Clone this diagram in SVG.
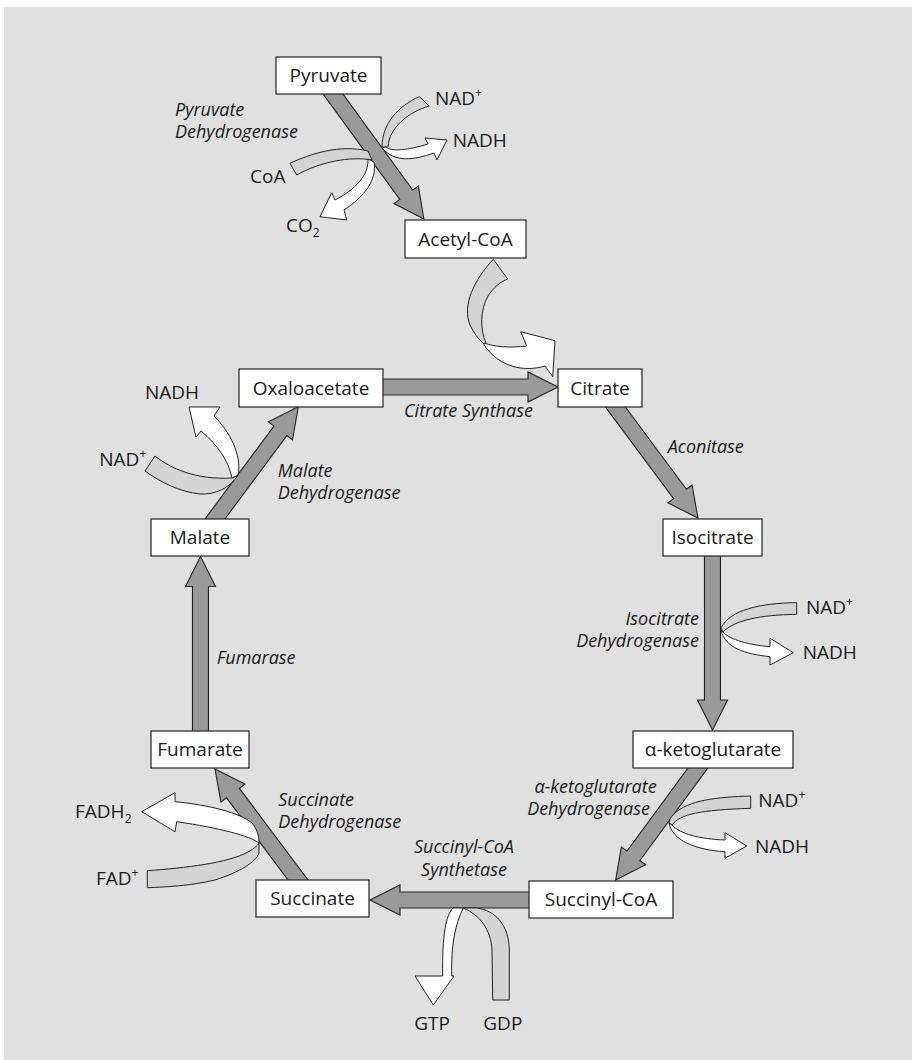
<svg xmlns="http://www.w3.org/2000/svg" width="912" height="1060" viewBox="0 0 912 1060">
  <style>
    .bg { fill: #e0e0e0; }
    .box { fill: #ffffff; stroke: #222; stroke-width: 1.2; }
    .main { fill: #9a9a9a; stroke: #222; stroke-width: 1.1; stroke-linejoin: miter; }
    .in { fill: #d4d4d4; stroke: #222; stroke-width: 1; stroke-linejoin: round; }
    .out { fill: #ffffff; stroke: #222; stroke-width: 1; stroke-linejoin: miter; }
    .lbl { font-family: "Open Sans", "Noto Sans", sans-serif; font-size: 19px; fill: #1a1a1a; }
    .node { text-anchor: middle; }
    .enz { font-family: "Open Sans", "Noto Sans", sans-serif; font-size: 18px; font-style: italic; fill: #1a1a1a; }
    .sup { font-size: 12px; }
  </style>

  <rect x="0" y="0" width="912" height="1060" fill="#ffffff"/>
  <rect class="bg" x="4" y="7" width="908" height="1053"/>

  <g id="connectors">
    <!-- main pathway arrows -->
    <path class="main" transform="translate(327.1,85.9) rotate(54)" d="M0,-8 H134.6 V-15 L164.6,0 L134.6,15 V8 H0 Z"/>
    <path class="main" transform="translate(375,387)" d="M0,-8 H153 V-15 L183,0 L153,15 V8 H0 Z"/>
    <path class="main" transform="translate(609.5,399) rotate(53.4)" d="M0,-8 H118.3 V-15 L148.3,0 L118.3,15 V8 H0 Z"/>
    <path class="main" transform="translate(712.5,548) rotate(90)" d="M0,-8 H152 V-15 L182,0 L152,15 V8 H0 Z"/>
    <path class="main" transform="translate(703.9,759.9) rotate(126.3)" d="M0,-8 H119 V-15 L149,0 L119,15 V8 H0 Z"/>
    <path class="main" transform="translate(537,900) rotate(180)" d="M0,-8 H137 V-15 L167,0 L137,15 V8 H0 Z"/>
    <path class="main" transform="translate(304,888) rotate(-126.8)" d="M0,-8 H118.6 V-15 L148.6,0 L118.6,15 V8 H0 Z"/>
    <path class="main" transform="translate(200.5,739) rotate(-90)" d="M0,-8 H152.5 V-15 L182.5,0 L152.5,15 V8 H0 Z"/>
    <path class="main" transform="translate(209,527) rotate(-53.4)" d="M0,-8 H119.8 V-15 L149.8,0 L119.8,15 V8 H0 Z"/>

    <!-- pyruvate dehydrogenase: NAD+ -> NADH -->
    <path class="in" d="M419.3,96.7 C398,106 382,124 382,147 L388,147 C389,128 408,112 429.3,106 Z"/>
    <path class="out" d="M386,147 C392,152 408,150 428,144 L425,138 L447,140 L437,160 L434,153 C414,160 395,163 382,148 Z"/>
    <!-- pyruvate dehydrogenase: CoA -> CO2 -->
    <path class="in" d="M290,163.3 C310,154 340,144 368,151 L372,160 C350,156 320,162 296.7,175 Z"/>
    <path class="out" d="M368,159 C369,175 355,190 335,200 L331.7,192.7 L320,216.7 L346.7,220 L344,210 C365,196 377,180 374,162 Z"/>

    <!-- acetyl-CoA into citrate -->
    <path class="in" d="M493.3,259.3 C474,280 462,305 470,325 C474,333 478,339 484,344 L486,343 C480,330 480,310 488,296 C494,287 500,282 507.7,279 Z"/>
    <path class="out" d="M484,343 C495,347 510,348 526.7,346 L520.7,331.7 L555,340.7 L552.7,376.7 L545,366 C525,372 500,368 484,345 Z"/>

    <!-- malate dehydrogenase -->
    <path class="in" d="M155,456 C170,468 195,480 232,478 L238,475 C230,488 215,495 200,494 C180,492 160,482 145,471 Z"/>
    <path class="out" d="M232,478 C229,462 218,445 201,431 L196,437 L189,407 L220,407 L214,416 C230,432 242,455 238,475 Z"/>

    <!-- isocitrate dehydrogenase -->
    <path class="in" d="M796.7,602.7 C760,603 730,610 721,628 L723,632 C735,620 760,615 796.7,614.3 Z"/>
    <path class="out" d="M723,632 C730,640 750,645 770,646.7 L770,638.3 L793.3,652.7 L770,665 L770,656.7 C745,654 725,648 721,630 Z"/>

    <!-- alpha-ketoglutarate dehydrogenase -->
    <path class="in" d="M750.7,796 C718,797 688,800 674,814 C671,817 669,820 669,823 L672,825 C680,814 700,810 750.7,808.3 Z"/>
    <path class="out" d="M672,825 C680,834 700,839 725,840 L725,832.7 L746.7,846 L725,858.3 L725,851.7 C695,850 672,840 669,823 Z"/>

    <!-- succinyl-CoA synthetase: GDP -> GTP -->
    <path class="in" d="M492.7,1000 L492,950 C491,930 480,915 463.3,908 L476.7,908 C495,910 509,925 509.3,950 L509.3,1000 Z"/>
    <path class="out" d="M453,908 C446,915 442,935 442.7,976 L415,976 L433.3,1005 L454,976 L451.7,976 C451,945 455,925 463.3,908 Z"/>

    <!-- succinate dehydrogenase: FAD+ -> FADH2 -->
    <path class="in" d="M147.3,870.7 C185,868 228,863 248,852 C255,848 258,845 259,843 L259,853 C256,862 240,872 215,880 C190,886 165,887 147.3,887.7 Z"/>
    <path class="out" d="M175,801.7 C210,805 240,813 252,823 C257,829 259,836 259,843 C250,836 220,828 176.7,821.7 L175,831.7 L141.7,811.7 L175,792.7 Z"/>
  </g>

  <!-- enzyme names -->
  <g id="enzymes">
    <text class="enz" x="175" y="116">Pyruvate</text>
    <text class="enz" x="175" y="138">Dehydrogenase</text>
    <text class="enz" x="404" y="416.7">Citrate Synthase</text>
    <text class="enz" x="667.7" y="453.3">Aconitase</text>
    <text class="enz" x="699" y="624.7" text-anchor="end">Isocitrate</text>
    <text class="enz" x="699" y="646.9" text-anchor="end">Dehydrogenase</text>
    <text class="enz" x="656.7" y="792.7" text-anchor="end">α-ketoglutarate</text>
    <text class="enz" x="650" y="815" text-anchor="end">Dehydrogenase</text>
    <text class="enz" x="464" y="853.3" text-anchor="middle">Succinyl-CoA</text>
    <text class="enz" x="464" y="875.5" text-anchor="middle">Synthetase</text>
    <text class="enz" x="278.3" y="805.5">Succinate</text>
    <text class="enz" x="278.3" y="827.7">Dehydrogenase</text>
    <text class="enz" x="216.7" y="664.3">Fumarase</text>
    <text class="enz" x="277.7" y="476.7">Malate</text>
    <text class="enz" x="277.7" y="499.3">Dehydrogenase</text>
  </g>

  <!-- cofactors -->
  <g id="cofactors">
    <text class="lbl" x="435" y="105">NAD<tspan class="sup" dy="-8">+</tspan></text>
    <text class="lbl" x="452.7" y="146.7">NADH</text>
    <text class="lbl" x="250" y="183.3">CoA</text>
    <text class="lbl" x="286" y="231.7">CO<tspan class="sup" dy="5">2</tspan></text>
    <text class="lbl" x="806" y="614.3">NAD<tspan class="sup" dy="-8">+</tspan></text>
    <text class="lbl" x="802.7" y="659.3">NADH</text>
    <text class="lbl" x="758.3" y="806.7">NAD<tspan class="sup" dy="-8">+</tspan></text>
    <text class="lbl" x="755" y="853.3">NADH</text>
    <text class="lbl" x="414.3" y="1030">GTP</text>
    <text class="lbl" x="483.3" y="1030">GDP</text>
    <text class="lbl" x="75" y="818.3">FADH<tspan class="sup" dy="5">2</tspan></text>
    <text class="lbl" x="96" y="885">FAD<tspan class="sup" dy="-8">+</tspan></text>
    <text class="lbl" x="145" y="399.3">NADH</text>
    <text class="lbl" x="99.3" y="465.7">NAD<tspan class="sup" dy="-8">+</tspan></text>
  </g>

  <g id="pyruvate"><rect class="box" x="276" y="57" width="105" height="37"/><text class="lbl node" x="328.5" y="82">Pyruvate</text></g>
  <g id="acetyl-coa"><rect class="box" x="405" y="220" width="121" height="38"/><text class="lbl node" x="465.5" y="245.5">Acetyl-CoA</text></g>
  <g id="oxaloacetate"><rect class="box" x="239" y="369" width="144" height="38"/><text class="lbl node" x="311" y="394.5">Oxaloacetate</text></g>
  <g id="citrate"><rect class="box" x="558" y="369" width="84" height="38"/><text class="lbl node" x="600" y="394.5">Citrate</text></g>
  <g id="isocitrate"><rect class="box" x="663" y="519" width="99" height="37"/><text class="lbl node" x="712.5" y="544">Isocitrate</text></g>
  <g id="alpha-ketoglutarate"><rect class="box" x="633" y="731" width="160" height="37"/><text class="lbl node" x="713" y="756">α-ketoglutarate</text></g>
  <g id="succinyl-coa"><rect class="box" x="529" y="881" width="144" height="37"/><text class="lbl node" x="601" y="905.5">Succinyl-CoA</text></g>
  <g id="succinate"><rect class="box" x="256" y="880" width="113" height="37"/><text class="lbl node" x="312.5" y="905">Succinate</text></g>
  <g id="fumarate"><rect class="box" x="151" y="731" width="98" height="37"/><text class="lbl node" x="200" y="756">Fumarate</text></g>
  <g id="malate"><rect class="box" x="151" y="519" width="98" height="37"/><text class="lbl node" x="200" y="544">Malate</text></g>
</svg>
